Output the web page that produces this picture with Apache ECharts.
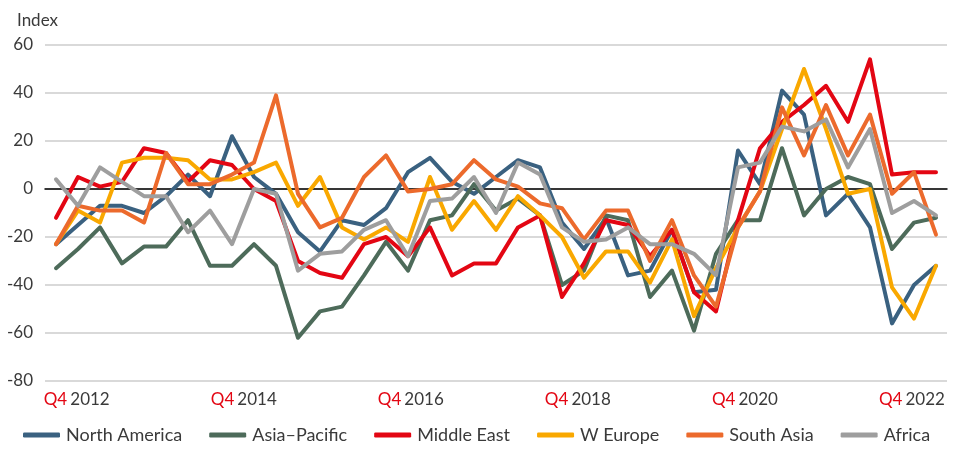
<!DOCTYPE html>
<html>
<head>
<meta charset="utf-8">
<script src="https://cdn.jsdelivr.net/npm/echarts@6/dist/echarts.min.js"></script>
<style>
  html, body { margin: 0; padding: 0; background: #fff; }
  #chart { width: 962px; height: 449px; }
</style>
</head>
<body>
<div id="chart"></div>
<script>
// quarters Q4 2012 .. Q4 2022
var quarters = [];
for (let y = 2012; y <= 2022; y++) {
  for (let q = 1; q <= 4; q++) {
    if (y === 2012 && q < 4) continue;
    quarters.push('Q' + q + ' ' + y);
    if (y === 2022 && q === 4) break;
  }
}
var tickYears = ['2012', '2014', '2016', '2018', '2020', '2022'];

var northAmerica = [-23, -15, -7, -7, -10, -3, 6, -3, 22, 5, -2,
  -18, -26, -13, -15, -8, 7, 13, 3, -2, 5,
  12, 9, -14, -25, -12, -36, -34, -17, -43, -42,
  16, 2, 41, 31, -11, -2, -16, -56, -40, -32];
var asiaPacific = [-33, -25, -16, -31, -24, -24, -13, -32, -32, -23, -32,
  -62, -51, -49, -36, -22, -34, -13, -11, 2, -9,
  -4, -11, -40, -34, -11, -13, -45, -34, -59, -27,
  -13, -13, 17, -11, 0, 5, 2, -25, -14, -12];
var middleEast = [-12, 5, 1, 3, 17, 15, 3, 12, 10, 0, -5,
  -30, -35, -37, -23, -20, -28, -16, -36, -31, -31,
  -16, -11, -45, -31, -13, -15, -28, -17, -43, -51,
  -13, 17, 28, 35, 43, 28, 54, 6, 7, 7];
var wEurope = [-23, -9, -14, 11, 13, 13, 12, 4, 4, 7, 11,
  -7, 5, -16, -21, -16, -22, 5, -17, -5, -17,
  -3, -11, -20, -37, -26, -26, -39, -21, -53, -33,
  -16, -1, 25, 50, 25, -2, 0, -41, -54, -32];
var southAsia = [-23, -7, -9, -9, -14, 15, 2, 2, 6, 11, 39,
  -2, -16, -12, 5, 14, -1, 0, 2, 12, 4,
  1, -6, -8, -21, -9, -9, -30, -13, -36, -49,
  -16, -1, 34, 14, 35, 14, 31, -2, 7, -19];
var africa = [4, -7, 9, 3, -3, -3, -18, -9, -23, 0, -2,
  -34, -27, -26, -17, -13, -28, -5, -4, 5, -10,
  11, 6, -16, -22, -21, -16, -23, -23, -27, -36,
  9, 11, 26, 24, 29, 9, 25, -10, -5, -11];

var names = ['North America', 'Asia\u2013Pacific', 'Middle East', 'W Europe', 'South Asia', 'Africa'];
var colors = ['#3a6180', '#4d6b5a', '#e30613', '#f9a800', '#ec6a2c', '#9e9e9e'];
var allData = [northAmerica, asiaPacific, middleEast, wEurope, southAsia, africa];

var font = 'Lato, "Noto Sans", sans-serif';
var txt = '#3a3a3a';

var chart = echarts.init(document.getElementById('chart'), null, { renderer: 'canvas' });

var series = allData.map(function (d, i) {
  return {
    name: names[i],
    type: 'line',
    data: d,
    showSymbol: false,
    symbol: 'none',
    lineStyle: { width: 4, color: colors[i], cap: 'round', join: 'round' },
    itemStyle: { color: colors[i] }
  };
});

var option = {
  animation: false,
  textStyle: { fontFamily: font },
  title: {
    text: 'Index',
    left: 12,
    top: 7,
    textStyle: { fontFamily: font, fontSize: 17, fontWeight: 'normal', color: txt }
  },
  grid: { left: 45, right: 15, top: 45, bottom: 68, containLabel: false },
  legend: {
    data: names,
    left: 18,
    top: 421,
    icon: 'roundRect',
    itemWidth: 37,
    itemHeight: 5,
    itemGap: 27,
    textStyle: { fontFamily: font, fontSize: 18, color: txt, padding: [0, 0, 0, 1] }
  },
  xAxis: [
    {
      type: 'category',
      data: quarters,
      boundaryGap: true,
      axisLine: { show: true, onZero: true, lineStyle: { color: '#000', width: 1.5 } },
      axisTick: { show: false },
      axisLabel: { show: false },
      splitLine: { show: false }
    },
    {
      // label-only axis: the source chart's Q4 labels sit slightly off the data points
      type: 'value',
      position: 'bottom',
      min: -0.19,
      max: 5.21,
      axisLine: { show: false },
      axisTick: { show: false },
      splitLine: { show: false },
      axisLabel: {
        customValues: [0, 1, 2, 3, 4, 5],
        margin: 10,
        formatter: function (v) {
          return '{q|Q4} {y|' + tickYears[Math.round(v)] + '}';
        },
        rich: {
          q: { color: '#e30613', fontSize: 17, fontFamily: font },
          y: { color: txt, fontSize: 17, fontFamily: font }
        }
      }
    }
  ],
  yAxis: {
    type: 'value',
    min: -80,
    max: 60,
    interval: 20,
    axisLine: { show: false },
    axisTick: { show: false },
    axisLabel: { color: txt, fontSize: 17, fontFamily: font, margin: 12 },
    splitLine: { lineStyle: { color: '#cccccc', width: 1.5 } }
  },
  series: series
};

chart.setOption(option);
</script>
</body>
</html>
